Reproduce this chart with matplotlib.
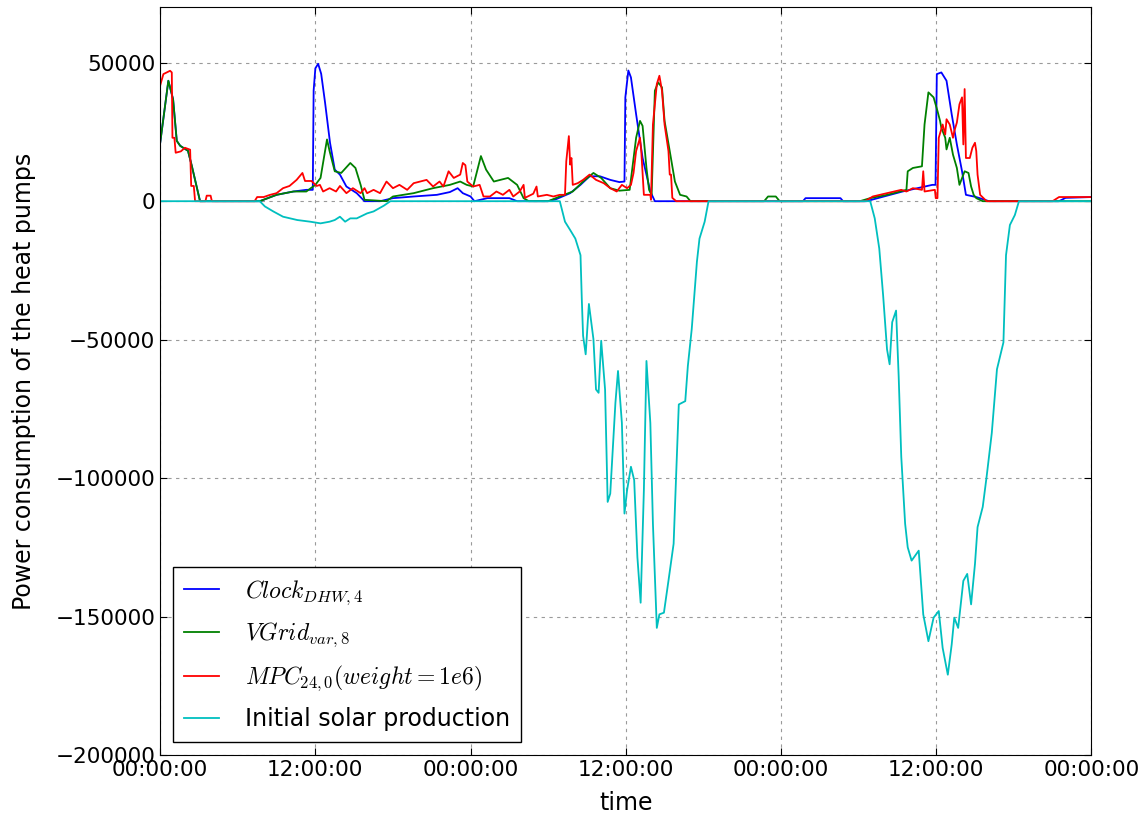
import numpy as np
import matplotlib
matplotlib.use("Agg")
import matplotlib.pyplot as plt
import matplotlib.dates as mdates

# hours since start of day 1, power in W
clock_h = [0, 0.64, 1.0, 1.29, 1.55, 2.16, 2.45, 3.09, 7.7, 9.0, 10.3, 11.3, 11.8, 11.87, 12.0, 12.23,
           12.45, 12.75, 13.14, 13.5, 13.9, 14.4, 15.2, 15.8, 17.0, 18.0, 19.6, 21.4, 22.4, 23.0, 23.4,
           24.0, 24.3, 25.3, 27.0, 27.6, 30.0, 30.6, 31.7, 32.5, 33.2, 34.0, 34.8, 35.5, 35.9, 35.97,
           36.2, 36.4, 36.8, 37.3, 37.9, 38.25, 49.7, 49.9, 52.6, 52.8, 54.6, 57.4, 59.7, 59.95, 60.05,
           60.4, 60.8, 61.2, 61.6, 62.0, 62.3, 63.1, 64.1, 69.5, 70.0, 72.0]
clock_w = [21000, 43500, 36800, 21800, 20000, 18200, 12700, 0, 0, 2300, 3500, 4100, 4100, 40000, 48000, 49600,
           46000, 35600, 21100, 11400, 9600, 5300, 2900, 0, 0, 1100, 1700, 2300, 3300, 4700, 2900,
           1700, 0, 1100, 1100, 0, 0, 700, 2900, 5900, 9000, 9000, 7700, 6900, 7100, 37500,
           47200, 44700, 31400, 15600, 3500, 0, 0, 1100, 1100, 0, 0, 3500, 5900, 5900, 45900,
           46500, 43500, 31400, 20500, 10800, 2300, 1500, 0, 0, 1200, 1500]

vgrid_h = [0, 0.64, 1.0, 1.29, 1.55, 2.16, 2.45, 3.09, 7.7, 9.0, 10.3, 11.3, 12.0, 12.4, 12.9, 13.1,
           13.5, 14.0, 14.7, 15.1, 15.5, 15.8, 17.5, 18.0, 19.6, 21.1, 22.4, 23.2, 23.7, 24.2, 24.8,
           25.2, 25.8, 26.3, 26.9, 27.6, 28.1, 28.5, 30.0, 30.9, 31.9, 32.7, 33.5, 34.1, 34.8, 35.5,
           36.3, 36.8, 37.1, 37.3, 37.6, 37.8, 38.0, 38.25, 38.5, 38.8, 39.0, 39.4, 39.8, 40.2, 40.7,
           41.0, 46.7, 47.0, 47.6, 47.9, 54.1, 54.9, 56.2, 57.7, 57.8, 58.2, 58.9, 59.1, 59.4, 59.8,
           60.1, 60.3, 60.4, 60.7, 60.8, 61.05, 61.3, 61.6, 61.8, 62.2, 62.5, 62.7, 62.9, 63.1, 63.6, 72.0]
vgrid_w = [21000, 43500, 36800, 21800, 20000, 18200, 12700, 0, 0, 2300, 3500, 3500, 5900, 8400, 22300, 18100,
           10800, 10200, 13800, 12000, 5900, 500, 0, 1700, 2900, 4700, 5900, 7100, 5900, 5300, 16300,
           11400, 7100, 7700, 8400, 5900, 1100, 0, 0, 1700, 3500, 7100, 10200, 8400, 4700, 3800,
           4100, 22900, 29000, 27200, 12000, 4100, 2300, 39900, 42900, 41100, 29000, 18100, 7100, 2300, 1700,
           0, 0, 1700, 1700, 0, 0, 1100, 2300, 4100, 10800, 12000, 12600, 27700, 39300, 37500,
           32600, 29000, 26500, 22900, 18700, 22900, 16800, 12000, 5900, 10800, 10200, 5300, 2300, 1100, 0, 0]

mpc_h = [0, 0.26, 0.77, 0.9, 0.95, 1.1, 1.2, 1.6, 1.93, 2.32, 2.4, 2.6, 2.7, 3.5, 3.6, 3.9, 4.0, 7.3,
         7.5, 8.0, 8.5, 9.0, 9.5, 10.0, 10.56, 11.0, 11.2, 11.7, 12.1, 12.36, 12.6, 13.1, 13.6, 13.9,
         14.4, 14.9, 15.5, 15.8, 16.0, 16.5, 17.0, 17.5, 18.0, 18.5, 19.1, 19.6, 20.1, 20.6, 21.1,
         21.6, 21.9, 22.3, 22.7, 23.2, 23.4, 23.6, 23.75, 24.2, 24.7, 25.0, 25.5, 26.0, 26.5, 27.0,
         27.3, 27.8, 28.1, 28.2, 28.85, 29.1, 29.2, 29.9, 30.4, 30.9, 31.3, 31.4, 31.6, 31.7, 31.8,
         31.9, 32.3, 32.7, 33.2, 33.7, 34.3, 34.8, 35.3, 35.7, 36.1, 36.4, 36.6, 36.8, 37.1, 37.2,
         37.4, 37.9, 37.95, 38.1, 38.4, 38.6, 38.8, 39.0, 39.3, 39.4, 39.5, 39.6, 39.9, 54.5, 55.1,
         56.2, 57.3, 57.7, 58.2, 58.9, 59.0, 59.1, 59.9, 59.97, 60.1, 60.2, 60.5, 60.7, 60.8, 61.05,
         61.3, 61.4, 61.6, 61.8, 62.0, 62.1, 62.2, 62.3, 62.6, 62.8, 63.0, 63.1, 63.2, 63.4, 63.9,
         69.0, 69.5, 72.0]
mpc_w = [41800, 45900, 47100, 46500, 22900, 22900, 17500, 18000, 19300, 18600, 5500, 5500, 0, 0, 2000, 2000, 0, 0,
         1500, 1500, 2300, 2900, 4700, 5500, 7700, 10200, 7300, 7300, 5500, 5900, 3500, 4700, 3500, 5500,
         2900, 4700, 2900, 4700, 2900, 4100, 2900, 7100, 4700, 5900, 4100, 6500, 7100, 7700, 5300,
         7100, 5300, 10800, 8400, 9600, 13800, 13000, 7100, 5300, 5900, 1700, 1700, 3500, 2300, 4100,
         1700, 3500, 5900, 1200, 2700, 5300, 1700, 2300, 1700, 2300, 2300, 14400, 23500, 13200, 15600,
         5900, 6500, 7700, 9600, 7700, 6500, 4700, 3500, 5900, 4700, 5900, 10200, 18100, 22900, 18000,
         2300, 2300, 500, 27700, 42300, 45300, 39900, 27700, 18100, 9600, 9600, 1200, 0, 0, 1700,
         2900, 4100, 3500, 4700, 4100, 10800, 3500, 4100, 1100, 1100, 22900, 27700, 24100, 29600, 27700,
         22900, 25300, 28400, 35000, 37500, 20500, 40500, 15600, 15600, 19300, 21100, 18100, 9600, 2300, 0,
         0, 1500, 1500]

solar_h = [0, 7.7, 8.1, 8.75, 9.5, 10.6, 11.6, 12.4, 13.1, 13.5, 13.9, 14.3, 14.7, 15.2, 16.0, 16.5,
           17.3, 17.8, 30.9, 31.3, 31.7, 32.1, 32.5, 32.6, 32.7, 32.9, 33.15, 33.5, 33.7, 33.9, 34.1,
           34.4, 34.6, 34.8, 35.2, 35.4, 35.7, 35.9, 36.1, 36.4, 36.65, 36.9, 37.15, 37.4, 37.6, 37.9,
           38.1, 38.4, 38.6, 38.95, 39.3, 39.7, 39.9, 40.1, 40.6, 40.8, 41.1, 41.5, 41.7, 42.1, 42.4,
           54.9, 55.25, 55.6, 55.9, 56.2, 56.4, 56.6, 56.9, 57.1, 57.3, 57.6, 57.8, 58.1, 58.65, 59.0,
           59.4, 59.8, 60.2, 60.5, 60.9, 61.2, 61.4, 61.7, 62.1, 62.4, 62.7, 63.0, 63.2, 63.6, 63.9,
           64.3, 64.7, 65.2, 65.4, 65.7, 66.1, 66.4, 72.0]
solar_w = [0, 0, -1900, -3700, -5600, -6800, -7400, -8000, -7400, -6800, -5600, -7400, -6200, -6200, -4400, -3700,
           -1600, 0, 0, -7400, -10400, -13500, -19500, -35300, -48600, -55300, -37100, -49800, -68000, -69200, -50400,
           -68000, -108600, -105600, -72800, -61300, -80100, -112800, -104400, -95900, -100700, -128600, -145000, -104400, -57700, -80100,
           -116500, -154100, -149200, -148600, -137100, -123700, -98300, -73400, -72200, -59500, -46200, -21900, -13500, -7400, 0,
           0, -6200, -17100, -34100, -53500, -58900, -43700, -39500, -63200, -92200, -116500, -125000, -129800, -126200, -149200,
           -158900, -150400, -148000, -161300, -171000, -160100, -150400, -154100, -137100, -134600, -145600, -131000, -117700, -110400, -99500,
           -83700, -60700, -51000, -19500, -8600, -5000, 0, 0]

labels = [r'$Clock_{DHW,4}$', r'$VGrid_{var,8}$', r'$MPC_{24,0}(weight=1e6)$', 'Initial solar production']

plt.rcParams['mathtext.fontset'] = 'cm'
plt.rcParams['font.size'] = 17
plt.rcParams['xtick.labelsize'] = 15.5
plt.rcParams['ytick.labelsize'] = 15.5
plt.rcParams['xtick.direction'] = 'in'
plt.rcParams['ytick.direction'] = 'in'
plt.rcParams['xtick.top'] = True
plt.rcParams['ytick.right'] = True
plt.rcParams['xtick.major.size'] = 5
plt.rcParams['ytick.major.size'] = 5

t0 = np.datetime64('2015-03-01T00:00')


def to_time(hours):
    return t0 + (np.array(hours) * 60).astype('timedelta64[m]')


fig = plt.figure(figsize=(11.44, 8.18), dpi=100)
ax = fig.add_axes([0.14, 0.077, 0.814, 0.914])

ax.plot(to_time(clock_h), clock_w, color='b', lw=1.3, label=labels[0])
ax.plot(to_time(vgrid_h), vgrid_w, color='g', lw=1.3, label=labels[1])
ax.plot(to_time(mpc_h), mpc_w, color='r', lw=1.3, label=labels[2])
ax.plot(to_time(solar_h), solar_w, color='c', lw=1.3, label=labels[3])

ax.set_xlim(to_time([0])[0], to_time([72])[0])
ax.set_ylim(-200000, 70000)
ax.set_yticks([-200000, -150000, -100000, -50000, 0, 50000])
ax.xaxis.set_major_locator(mdates.HourLocator(byhour=[0, 12]))
ax.xaxis.set_major_formatter(mdates.DateFormatter('%H:%M:%S'))
ax.grid(True, color='#9a9a9a', linestyle=(0, (3, 4)), linewidth=0.8)

ax.set_xlabel('time', labelpad=8)
ax.set_ylabel('Power consumption of the heat pumps', labelpad=14)

leg = ax.legend(loc='lower left', fancybox=False, framealpha=1, edgecolor='k',
                handlelength=1.5, handletextpad=1.1, labelspacing=0.6, borderpad=0.45,
                borderaxespad=0.55)
leg.get_frame().set_linewidth(1.0)

fig.savefig('out.png', dpi=100, facecolor='white')
